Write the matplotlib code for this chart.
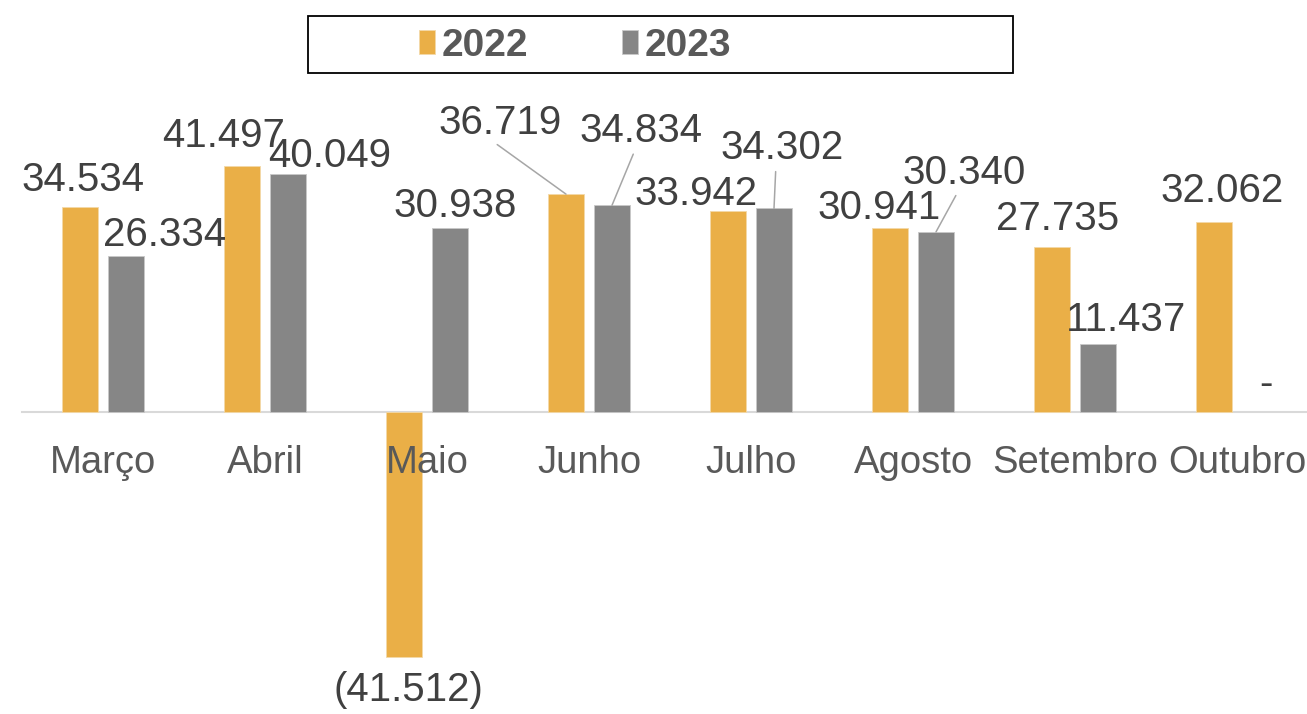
import numpy as np
import matplotlib
matplotlib.use("Agg")
import matplotlib.pyplot as plt
from matplotlib.patches import Rectangle

meses = ['Março', 'Abril', 'Maio', 'Junho', 'Julho', 'Agosto', 'Setembro', 'Outubro']
v2022 = [34534, 41497, -41512, 36719, 33942, 30941, 27735, 32062]
v2023 = [26334, 40049, 30938, 34834, 34302, 30340, 11437, 0]

# label offsets (pixels) relative to bar tip, Excel moved some of them around
off22 = [(3, 16), (-18, 19), (4, -44), (-66, 60), (-32, 6), (-11, 9), (6, 17), (8, 20)]
off23 = [(39, 10), (42, 7), (5, 11), (29, 63), (8, 49), (28, 48), (28, 13), (6, 16)]
leader22 = [False, False, False, True, False, False, False, False]
leader23 = [False, False, False, True, True, True, False, False]

cor22 = '#EAAF47'
cor23 = '#868686'

plt.rcParams['font.family'] = ['Liberation Sans', 'DejaVu Sans']


def fmt(v):
    if v == 0:
        return '-'
    s = '{:,}'.format(abs(v)).replace(',', '.')
    return '(' + s + ')' if v < 0 else s


def main():
    fig = plt.figure(figsize=(13.07, 7.14), dpi=100)
    ax = fig.add_axes([22 / 1307, 6.5 / 714, 1296 / 1307, 651.2 / 714])

    x = np.arange(len(meses))
    w = 0.222
    d = 0.142
    b22 = ax.bar(x - d, v2022, w, color=cor22, edgecolor='#F3D9A8', linewidth=0.6, label='2022', zorder=2)
    b23 = ax.bar(x + d, v2023, w, color=cor23, edgecolor='#C8C8C8', linewidth=0.6, label='2023', zorder=2)
    for r, v in zip(b23, v2023):
        if v == 0:
            r.set_linewidth(0)

    for xs, vals, offs, leads in [(x - d, v2022, off22, leader22), (x + d, v2023, off23, leader23)]:
        for xi, v, (dx, dy), lead in zip(xs, vals, offs, leads):
            props = None
            if lead:
                props = dict(arrowstyle='-', color='#A6A6A6', lw=1.1, shrinkA=3, shrinkB=0,
                             patchA=None, relpos=(0.45, 0))
            ax.annotate(fmt(v), xy=(xi, v), xytext=(dx, dy), textcoords='offset pixels',
                        ha='center', va='baseline', fontsize=29, color='#404040',
                        arrowprops=props, zorder=4)

    ax.set_xlim(-0.5, len(meses) - 0.5)
    ax.set_ylim(-50000, 60000)
    ax.set_xticks(x)
    ax.set_xticklabels(meses)
    ax.tick_params(axis='x', length=0, pad=24, labelsize=27.5, labelcolor='#595959')
    ax.xaxis.set_zorder(3)
    ax.set_yticks([])
    for s in ['top', 'left', 'right']:
        ax.spines[s].set_visible(False)
    ax.spines['bottom'].set_position(('data', 0))
    ax.spines['bottom'].set_color('#D9D9D9')
    ax.spines['bottom'].set_linewidth(1.5)
    ax.spines['bottom'].set_zorder(1)

    # legend box
    fig.patches.append(Rectangle((308 / 1307, 1 - 73 / 714), 705 / 1307, 57 / 714,
                                 transform=fig.transFigure, fill=False,
                                 edgecolor='black', linewidth=1.3))
    fig.legend(handles=[b22, b23], loc='center', bbox_to_anchor=(575 / 1307, 1 - 46 / 714),
               ncol=2, frameon=False, handlelength=0.41, handleheight=0.57,
               handletextpad=0.18, columnspacing=2.4,
               prop=dict(weight='bold', size=28),
               labelcolor='#595959')

    fig.savefig('out.png', dpi=100)


if __name__ == "__main__":
    main()
